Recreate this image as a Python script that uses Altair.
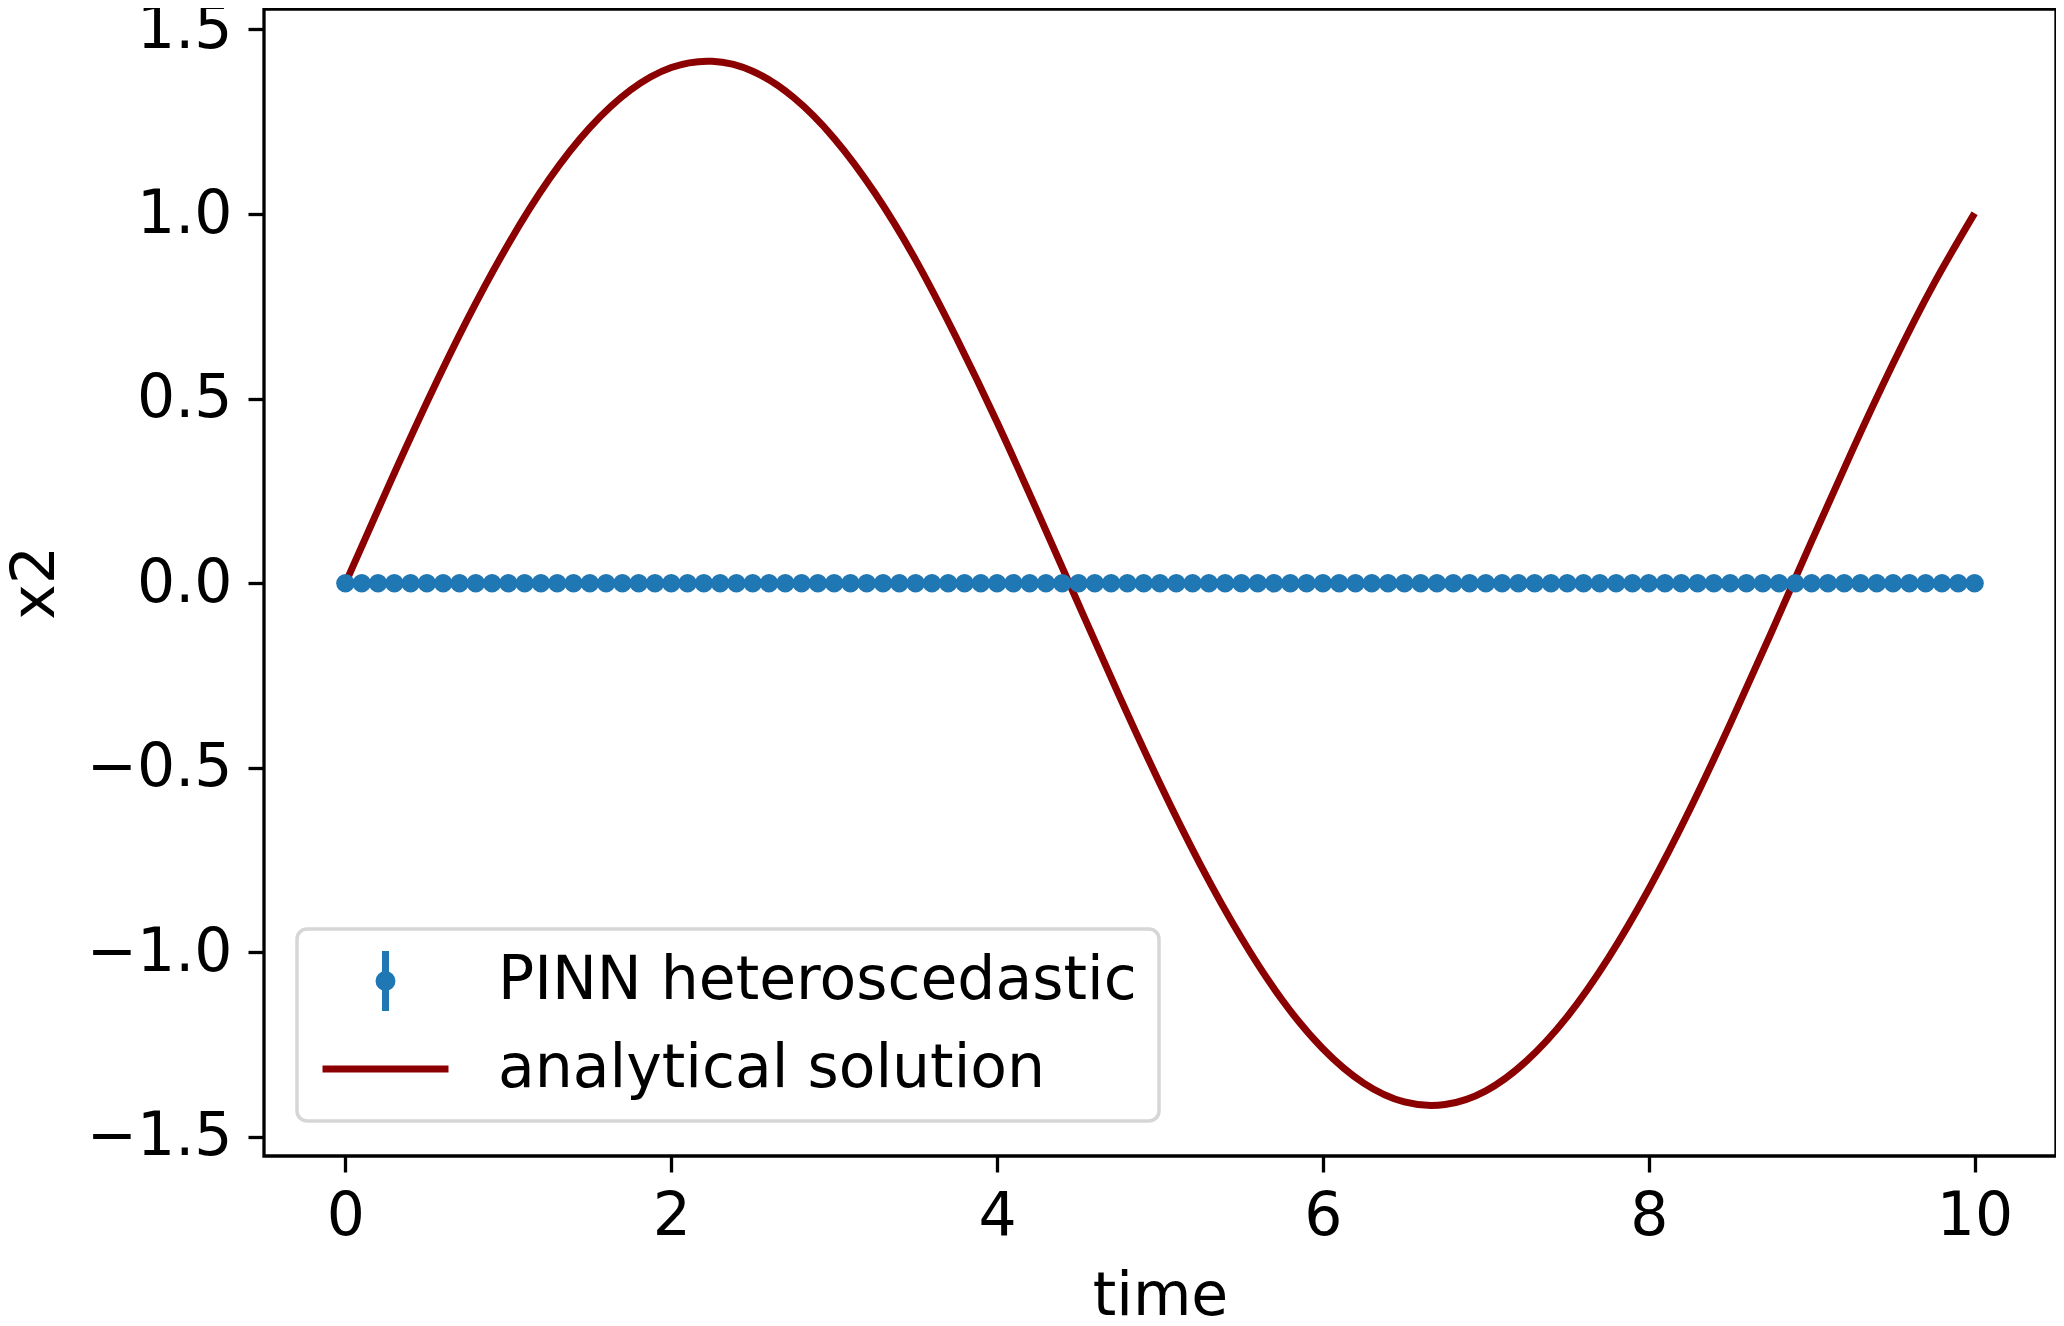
import altair as alt
import pandas as pd

# ---- data ----
# PINN heteroscedastic predictions (error bars are zero length)
PINN_TIME = [
    0.0, 0.1, 0.2, 0.3, 0.4, 0.5, 0.6, 0.7, 0.8, 0.9,
    1.0, 1.1, 1.2, 1.3, 1.4, 1.5, 1.6, 1.7, 1.8, 1.9,
    2.0, 2.1, 2.2, 2.3, 2.4, 2.5, 2.6, 2.7, 2.8, 2.9,
    3.0, 3.1, 3.2, 3.3, 3.4, 3.5, 3.6, 3.7, 3.8, 3.9,
    4.0, 4.1, 4.2, 4.3, 4.4, 4.5, 4.6, 4.7, 4.8, 4.9,
    5.0, 5.1, 5.2, 5.3, 5.4, 5.5, 5.6, 5.7, 5.8, 5.9,
    6.0, 6.1, 6.2, 6.3, 6.4, 6.5, 6.6, 6.7, 6.8, 6.9,
    7.0, 7.1, 7.2, 7.3, 7.4, 7.5, 7.6, 7.7, 7.8, 7.9,
    8.0, 8.1, 8.2, 8.3, 8.4, 8.5, 8.6, 8.7, 8.8, 8.9,
    9.0, 9.1, 9.2, 9.3, 9.4, 9.5, 9.6, 9.7, 9.8, 9.9,
    10.0,
]
PINN_X2 = [
    0.0, 0.0, 0.0, 0.0, 0.0, 0.0, 0.0, 0.0, 0.0, 0.0,
    0.0, 0.0, 0.0, 0.0, 0.0, 0.0, 0.0, 0.0, 0.0, 0.0,
    0.0, 0.0, 0.0, 0.0, 0.0, 0.0, 0.0, 0.0, 0.0, 0.0,
    0.0, 0.0, 0.0, 0.0, 0.0, 0.0, 0.0, 0.0, 0.0, 0.0,
    0.0, 0.0, 0.0, 0.0, 0.0, 0.0, 0.0, 0.0, 0.0, 0.0,
    0.0, 0.0, 0.0, 0.0, 0.0, 0.0, 0.0, 0.0, 0.0, 0.0,
    0.0, 0.0, 0.0, 0.0, 0.0, 0.0, 0.0, 0.0, 0.0, 0.0,
    0.0, 0.0, 0.0, 0.0, 0.0, 0.0, 0.0, 0.0, 0.0, 0.0,
    0.0, 0.0, 0.0, 0.0, 0.0, 0.0, 0.0, 0.0, 0.0, 0.0,
    0.0, 0.0, 0.0, 0.0, 0.0, 0.0, 0.0, 0.0, 0.0, 0.0,
    0.0,
]

# analytical solution
SOL_TIME = [
    0.0, 0.25, 0.5, 0.75, 1.0, 1.25, 1.5, 1.75, 2.0, 2.25,
    2.5, 2.75, 3.0, 3.25, 3.5, 3.75, 4.0, 4.25, 4.5, 4.75,
    5.0, 5.25, 5.5, 5.75, 6.0, 6.25, 6.5, 6.75, 7.0, 7.25,
    7.5, 7.75, 8.0, 8.25, 8.5, 8.75, 9.0, 9.25, 9.5, 9.75,
    10.0,
]
SOL_X2 = [
    0.0, 0.249, 0.490, 0.716, 0.919, 1.094, 1.234, 1.336, 1.397, 1.414,
    1.387, 1.316, 1.205, 1.057, 0.876, 0.665, 0.436, 0.192, -0.057, -0.305,
    -0.543, -0.764, -0.961, -1.129, -1.261, -1.354, -1.405, -1.412, -1.375, -1.294,
    -1.174, -1.017, -0.829, -0.615, -0.381, -0.136, 0.114, 0.360, 0.595, 0.811,
    1.002,
]

SERIES = ["PINN heteroscedastic", "analytical solution"]
SERIES_COLORS = ["#1f77b4", "#8b0000"]

X_TICKS = [0, 2, 4, 6, 8, 10]
Y_TICKS = [-1.5, -1.0, -0.5, 0.0, 0.5, 1.0, 1.5]

pinn_df = pd.DataFrame({"time": PINN_TIME, "x2": PINN_X2})
sol_df = pd.DataFrame({"time": SOL_TIME, "x2": SOL_X2})
legend_df = pd.DataFrame({"time": [PINN_TIME[0]] * 2, "x2": [PINN_X2[0]] * 2, "series": SERIES})

FONT = "DejaVu Sans"
W, H = 1792, 1147

x_scale = alt.Scale(domain=[-0.5, 10.5], nice=False, zero=False)
y_scale = alt.Scale(domain=[-1.5515, 1.5555], nice=False, zero=False)

x_axis = alt.Axis(
    values=X_TICKS, format="d", title="time", grid=False, domain=False,
    tickSize=16, tickWidth=3.3, tickColor="black",
    labelFont=FONT, labelFontSize=60, labelColor="black", labelPadding=15,
    titleFont=FONT, titleFontSize=60, titleFontWeight="normal", titleColor="black",
    titleX=W / 2, titleY=158, titleBaseline="alphabetic", titleAlign="center",
)
y_axis = alt.Axis(
    values=Y_TICKS, format=".1f", title="x2", grid=False, domain=False,
    tickSize=16, tickWidth=3.3, tickColor="black",
    labelFont=FONT, labelFontSize=60, labelColor="black", labelPadding=16,
    titleFont=FONT, titleFontSize=60, titleFontWeight="normal", titleColor="black",
    titleAngle=270, titleX=-211, titleY=H / 2, titleBaseline="alphabetic", titleAlign="center",
)

line = alt.Chart(sol_df).mark_line(
    color="#8b0000", strokeWidth=7, interpolate="natural"
).encode(
    x=alt.X("time:Q", scale=x_scale, axis=x_axis),
    y=alt.Y("x2:Q", scale=y_scale, axis=y_axis),
)

points = alt.Chart(pinn_df).mark_circle(
    color="#1f77b4", size=345, opacity=1
).encode(
    x=alt.X("time:Q", scale=x_scale),
    y=alt.Y("x2:Q", scale=y_scale),
)

# error-bar-with-dot legend glyph and plain stroke glyph
ERR_PATH = (
    "M0,-0.476L0,0.476"
    "M-0.032,0A0.032,0.032,0,1,1,0.032,0A0.032,0.032,0,1,1,-0.032,0Z"
    "M-0.103,0A0.103,0.103,0,1,1,0.103,0A0.103,0.103,0,1,1,-0.103,0Z"
)

legend_layer = alt.Chart(legend_df).mark_point(
    filled=False, opacity=0, strokeWidth=7
).encode(
    x=alt.X("time:Q", scale=x_scale),
    y=alt.Y("x2:Q", scale=y_scale),
    color=alt.Color(
        "series:N",
        scale=alt.Scale(domain=SERIES, range=SERIES_COLORS),
        legend=alt.Legend(
            title=None, orient="none", legendX=33, legendY=920,
            symbolSize=15876, symbolStrokeWidth=7, symbolOpacity=1,
            labelFont=FONT, labelFontSize=60, labelColor="black",
            labelOffset=46, labelLimit=2000, rowPadding=28, clipHeight=60,
            padding=22, fillColor="white", strokeColor="#d6d6d6",
        ),
    ),
    shape=alt.Shape(
        "series:N",
        scale=alt.Scale(domain=SERIES, range=[ERR_PATH, "stroke"]),
    ),
)

chart = alt.layer(line, points, legend_layer).properties(
    width=W, height=H,
    autosize=alt.AutoSizeParams(type="none"),
    padding={"left": 256, "top": 1, "right": 0, "bottom": 160},
    background="white",
).configure_view(
    stroke="black", strokeWidth=3.3, fill="white"
).configure_legend(
    cornerRadius=10, strokeWidth=3.5
)

chart.save("out.html", embed_options={"renderer": "svg", "actions": False})
